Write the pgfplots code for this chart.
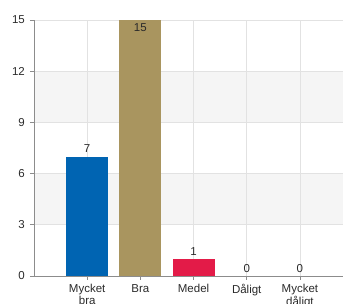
\documentclass[border=0pt]{standalone}
\usepackage{pgfplots}
\pgfplotsset{compat=1.18}
\usepackage{fontspec}
\setmainfont{Liberation Sans}
\definecolor{cblue}{HTML}{0064B2}
\definecolor{ctan}{HTML}{A9955F}
\definecolor{cred}{HTML}{E31B48}
\definecolor{gridc}{HTML}{E2E2E2}
\definecolor{bandc}{HTML}{F5F5F5}
\definecolor{axc}{HTML}{8C8C8C}
\definecolor{txt}{HTML}{2A2A2A}
\pgfplotsset{set layers}
\begin{document}
\begin{tikzpicture}
\begin{axis}[
  scale only axis,
  width=309pt, height=256pt,
  ybar, bar width=42pt, bar shift=0pt,
  xmin=-1, xmax=4.81,
  ymin=0, ymax=15,
  ytick={0,3,6,9,12,15},
  xtick={0,1,2,3,4},
  xticklabels={{Mycket\\bra},{Bra},{Medel},{Dåligt},{Mycket\\dåligt}},
  xticklabel style={align=center, font=\fontsize{11.5}{11.5}\selectfont, text=txt, inner sep=1pt, yshift=-3pt},
  yticklabel style={font=\fontsize{11.5}{11}\selectfont, text=txt, inner sep=1pt, xshift=-4pt},
  /pgf/number format/assume math mode=true,
  tick align=outside, major tick length=4pt,
  tick style={axc, line width=0.8pt},
  axis x line*=bottom, axis y line*=left,
  axis line style={axc, line width=0.9pt, -},
  grid=major, grid style={gridc, line width=0.6pt},
  nodes near coords,
  every node near coord/.append style={font=\fontsize{11.5}{11}\selectfont, text=txt},
  clip=false,
]
\begin{pgfonlayer}{axis background}
\fill[bandc] (axis cs:-1,3) rectangle (axis cs:4.81,6);
\fill[bandc] (axis cs:-1,9) rectangle (axis cs:4.81,12);
\draw[gridc, line width=0.6pt] (axis cs:-1,15) -- (axis cs:4.81,15);
\end{pgfonlayer}
\addplot[fill=cblue, draw=none] coordinates {(0,7)};
\addplot[fill=ctan, draw=none, nodes near coords align=below] coordinates {(1,15)};
\addplot[fill=cred, draw=none] coordinates {(2,1)};
\addplot[draw=none, fill=none] coordinates {(3,0) (4,0)};
\end{axis}
\pgfresetboundingbox
\path[use as bounding box] (-34pt,-28pt) rectangle (309pt,276pt);
\end{tikzpicture}
\end{document}
